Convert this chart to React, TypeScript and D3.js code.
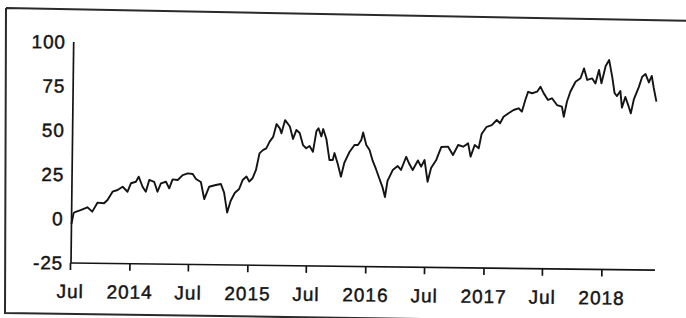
import * as d3 from "d3";

// decimal years
const years = [
  2013.500, 2013.517, 2013.534, 2013.576, 2013.633, 2013.675, 2013.718, 2013.774, 2013.803, 2013.845,
  2013.887, 2013.930, 2013.972, 2014.000, 2014.042, 2014.065, 2014.099, 2014.127, 2014.155, 2014.197,
  2014.226, 2014.254, 2014.297, 2014.325, 2014.353, 2014.396, 2014.438, 2014.481, 2014.523, 2014.551,
  2014.593, 2014.623, 2014.664, 2014.720, 2014.763, 2014.791, 2014.819, 2014.847, 2014.881, 2014.918,
  2014.947, 2014.979, 2015.003, 2015.031, 2015.059, 2015.087, 2015.116, 2015.144, 2015.172, 2015.201,
  2015.229, 2015.257, 2015.271, 2015.301, 2015.342, 2015.370, 2015.398, 2015.426, 2015.455, 2015.483,
  2015.511, 2015.540, 2015.568, 2015.585, 2015.610, 2015.625, 2015.653, 2015.681, 2015.709, 2015.723,
  2015.752, 2015.780, 2015.808, 2015.850, 2015.892, 2015.921, 2015.949, 2015.964, 2015.992, 2016.020,
  2016.048, 2016.076, 2016.104, 2016.133, 2016.155, 2016.175, 2016.218, 2016.260, 2016.288, 2016.331,
  2016.358, 2016.387, 2016.430, 2016.458, 2016.486, 2016.514, 2016.542, 2016.585, 2016.627, 2016.684,
  2016.726, 2016.769, 2016.811, 2016.853, 2016.875, 2016.909, 2016.943, 2016.966, 2017.008, 2017.051,
  2017.093, 2017.121, 2017.150, 2017.192, 2017.235, 2017.277, 2017.305, 2017.333, 2017.356, 2017.390,
  2017.432, 2017.460, 2017.489, 2017.525, 2017.559, 2017.602, 2017.644, 2017.661, 2017.686, 2017.714,
  2017.757, 2017.799, 2017.828, 2017.856, 2017.898, 2017.926, 2017.955, 2017.977, 2018.011, 2018.040,
  2018.068, 2018.089, 2018.110, 2018.138, 2018.153, 2018.181, 2018.209, 2018.229, 2018.254, 2018.294,
  2018.322, 2018.350, 2018.379, 2018.403, 2018.421, 2018.445,
];

const values = [
  -2.9, 3.3, 4.0, 5.0, 6.6, 4.2, 9.3, 9.0, 10.9, 15.6,
  16.6, 18.5, 15.7, 20.5, 21.4, 24.3, 18.6, 15.8, 22.5, 21.5,
  15.9, 20.7, 21.6, 17.9, 23.0, 22.7, 25.5, 26.5, 26.2, 23.4,
  21.7, 12.1, 19.1, 20.1, 20.7, 15.9, 4.6, 11.2, 15.7, 18.0,
  23.1, 25.1, 22.3, 24.2, 28.9, 38.3, 40.2, 41.2, 45.0, 47.7,
  55.0, 52.6, 49.8, 57.3, 53.7, 46.7, 51.8, 50.1, 43.3, 41.5,
  42.8, 39.6, 51.3, 52.9, 48.3, 52.5, 46.9, 35.0, 35.1, 39.0,
  32.8, 25.7, 33.7, 39.7, 43.7, 43.7, 46.6, 50.8, 43.8, 41.0,
  34.8, 30.3, 25.2, 20.1, 14.5, 23.6, 29.8, 32.1, 29.9, 37.4,
  33.3, 30.0, 35.4, 31.9, 35.7, 23.4, 31.2, 35.8, 43.2, 43.4,
  38.7, 44.4, 43.5, 45.4, 37.9, 44.5, 42.7, 50.8, 54.9, 55.9,
  58.8, 57.0, 60.7, 62.7, 64.6, 65.6, 63.7, 70.3, 75.0, 74.2,
  75.1, 77.9, 74.2, 70.5, 71.5, 67.7, 66.8, 61.1, 69.6, 75.3,
  81.0, 83.0, 88.6, 82.1, 83.0, 80.2, 87.8, 80.3, 90.1, 93.5,
  83.9, 74.9, 73.2, 76.1, 66.7, 72.7, 67.6, 63.5, 71.6, 78.4,
  84.3, 85.8, 81.1, 84.8, 78.0, 70.3,
];

const yTicks = [-25, 0, 25, 50, 75, 100];
const domainStart = 2013.5;
const domainEnd = 2018.45;

function toDate(t: number) {
  const y = Math.floor(t);
  const a = Date.UTC(y, 0, 1);
  const b = Date.UTC(y + 1, 0, 1);
  return new Date(a + (t - y) * (b - a));
}

const width = 686;
const height = 318;
const left = 71;
const right = 655;
const top = 42;
const bottom = 263;
const font = "'Liberation Sans', Arial, sans-serif";
const ink = "#141414";

export default function App() {
  const x = d3.scaleUtc([toDate(domainStart), toDate(domainEnd)], [left, right]);
  const y = d3.scaleLinear([-25, 100], [bottom, top]);

  const data = years.map((t, i) => ({ date: toDate(t), value: values[i] }));
  const line = d3.line<{ date: Date; value: number }>()
    .x(d => x(d.date))
    .y(d => y(d.value));

  const xTicks = d3.utcMonth.every(6)!.range(toDate(domainStart - 0.01), toDate(domainEnd));
  const fmt = (d: Date) => (d.getUTCMonth() === 0 ? String(d.getUTCFullYear()) : "Jul");

  // scanned print looks a bit heavier than plain regular weight
  const textStyle = { fill: ink, stroke: ink, strokeWidth: 0.45 };

  return (
    <svg width={width} height={height}
      style={{ position: "absolute", left: 0, top: 0, background: "#fff" }}
      fontFamily={font}>
      {/* scanned page frame, slightly skewed */}
      <path d="M6,8 L700,21 M6,8 L5,313 M4,313 L700,323" fill="none" stroke="#2a2a2a" strokeWidth={2} />

      <g transform={`rotate(0.7, ${left}, ${bottom})`}>
        {/* y axis */}
        <line x1={left} x2={left} y1={top} y2={bottom} stroke={ink} strokeWidth={1.7} />
        {yTicks.map(t => (
          <text key={t} x={63} y={y(t)} dy="0.35em" textAnchor="end" fontSize={19}
            letterSpacing={0.8} {...textStyle}>{t}</text>
        ))}

        {/* x axis */}
        <line x1={left} x2={right} y1={bottom} y2={bottom} stroke={ink} strokeWidth={1.7} />
        {xTicks.map(d => (
          <g key={+d} transform={`translate(${x(d)},${bottom})`}>
            <line y2={7} stroke={ink} strokeWidth={1.7} />
            <text y={35} textAnchor="middle" fontSize={19} letterSpacing={1} {...textStyle}>{fmt(d)}</text>
          </g>
        ))}

        <path d={line(data) ?? ""} fill="none" stroke={ink} strokeWidth={1.9} strokeLinejoin="round" />
      </g>
    </svg>
  );
}
